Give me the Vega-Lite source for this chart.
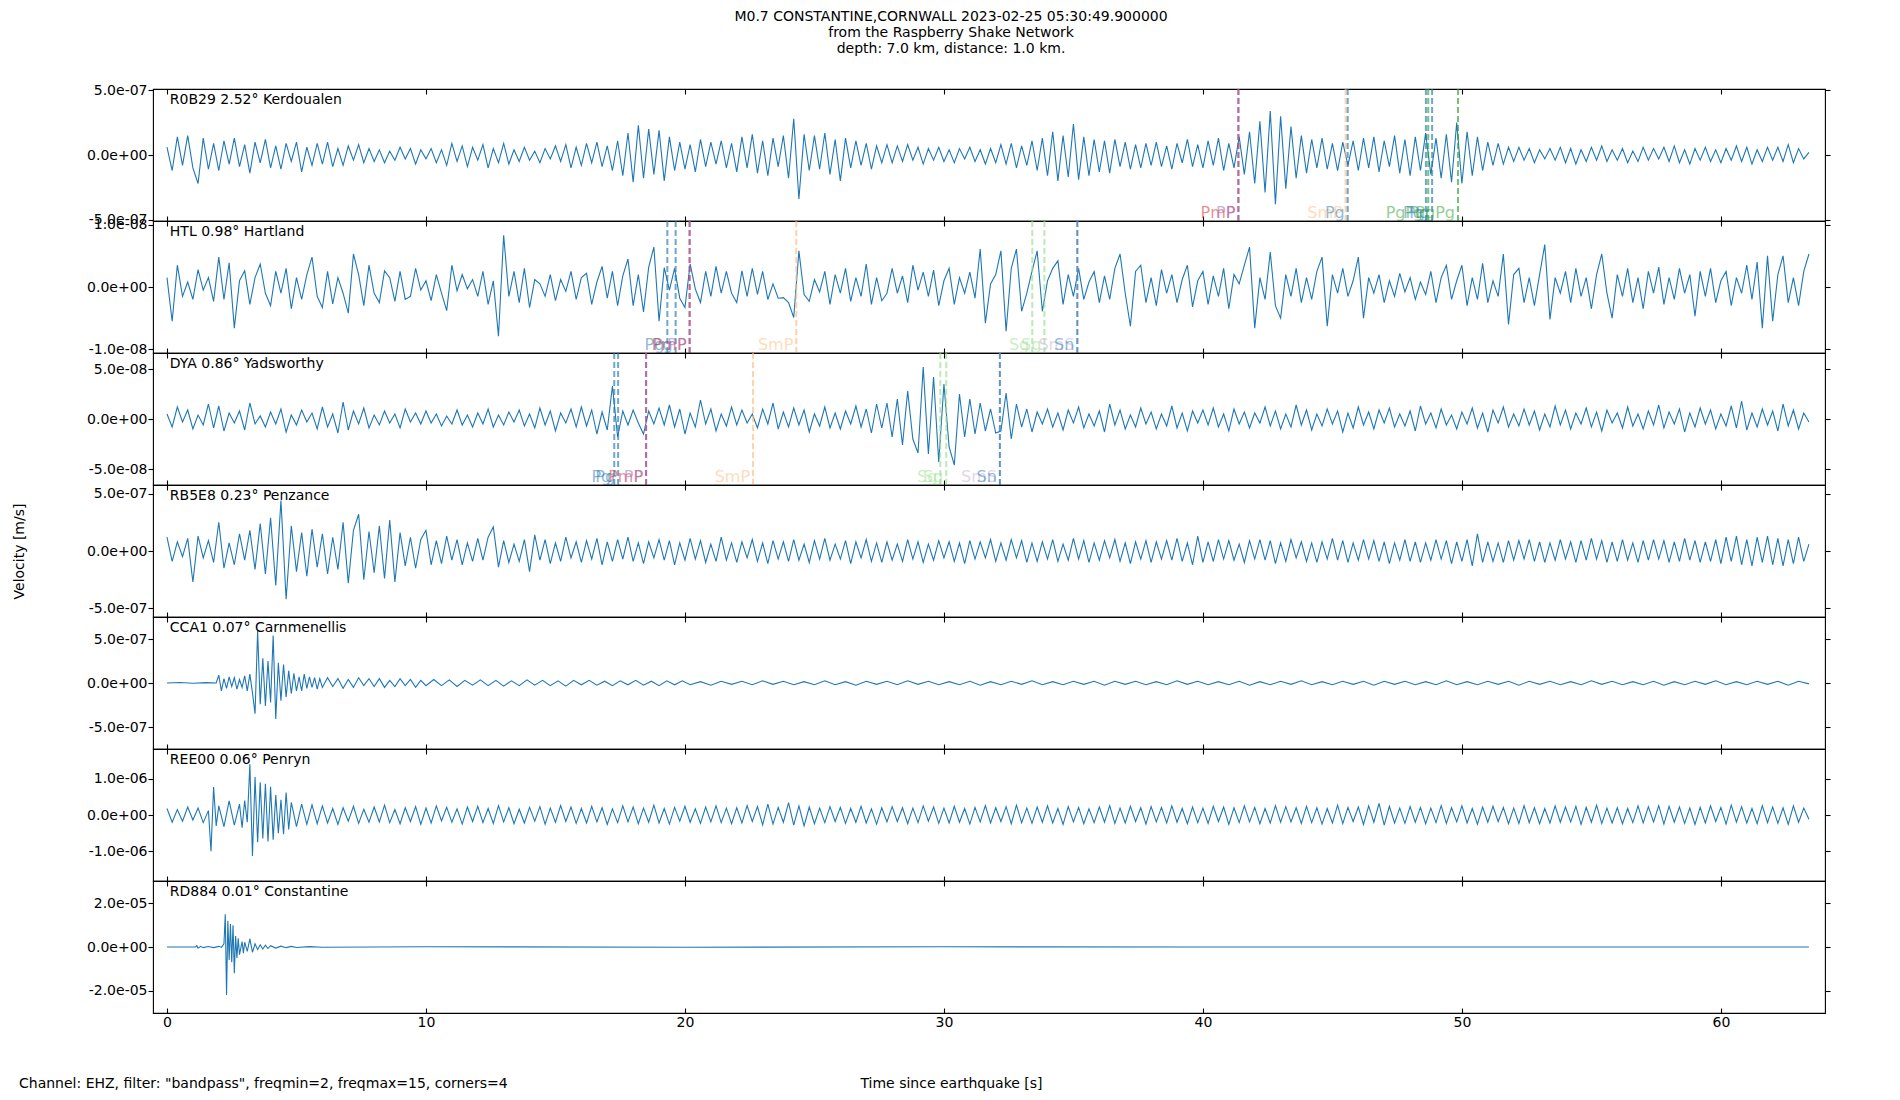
{
  "$schema": "https://vega.github.io/schema/vega-lite/v6.json",
  "description": "Raspberry Shake seismograms for the M0.7 Constantine, Cornwall event, seven stations stacked.",
  "padding": {"left": 11, "top": 9, "right": 5, "bottom": 14},
  "title": {
    "text": ["M0.7 CONSTANTINE,CORNWALL 2023-02-25 05:30:49.900000", "from the Raspberry Shake Network", "depth: 7.0 km, distance: 1.0 km."],
    "anchor": "middle", "frame": "group", "dx": -38, "offset": 13, "lineHeight": 16, "baseline": "bottom"
  },
  "config": {
    "font": "DejaVu Sans",
    "view": {"stroke": "black", "strokeWidth": 1.1},
    "title": {"font": "DejaVu Sans", "fontSize": 14, "fontWeight": "normal", "color": "black"},
    "axis": {
      "grid": false, "domain": false, "tickColor": "black", "tickWidth": 1.1,
      "labelColor": "black", "labelFont": "DejaVu Sans", "labelFontSize": 14,
      "titleFont": "DejaVu Sans", "titleFontSize": 14, "titleFontWeight": "normal", "titleColor": "black",
      "labelOverlap": false, "labelFlush": false
    }
  },
  "datasets": {
    "stations": [
      {"station": "R0B29", "label": "R0B29 2.52° Kerdoualen"},
      {"station": "HTL", "label": "HTL 0.98° Hartland"},
      {"station": "DYA", "label": "DYA 0.86° Yadsworthy"},
      {"station": "RB5E8", "label": "RB5E8 0.23° Penzance"},
      {"station": "CCA1", "label": "CCA1 0.07° Carnmenellis"},
      {"station": "REE00", "label": "REE00 0.06° Penryn"},
      {"station": "RD884", "label": "RD884 0.01° Constantine"}
    ],
    "phases": [
      {"station": "R0B29", "t": 41.37, "phase": "PmP"},
      {"station": "R0B29", "t": 41.37, "phase": "PP"},
      {"station": "R0B29", "t": 45.51, "phase": "SmP"},
      {"station": "R0B29", "t": 45.59, "phase": "Pg"},
      {"station": "R0B29", "t": 48.61, "phase": "Pg"},
      {"station": "R0B29", "t": 48.7, "phase": "PgPg"},
      {"station": "R0B29", "t": 48.85, "phase": "Pg"},
      {"station": "R0B29", "t": 49.85, "phase": "PgPg"},
      {"station": "HTL", "t": 19.32, "phase": "Pg"},
      {"station": "HTL", "t": 19.64, "phase": "Pg"},
      {"station": "HTL", "t": 20.18, "phase": "PmP"},
      {"station": "HTL", "t": 20.18, "phase": "PP"},
      {"station": "HTL", "t": 24.3, "phase": "SmP"},
      {"station": "HTL", "t": 33.41, "phase": "Sg"},
      {"station": "HTL", "t": 33.88, "phase": "Sg"},
      {"station": "HTL", "t": 35.15, "phase": "SmS"},
      {"station": "HTL", "t": 35.15, "phase": "Sn"},
      {"station": "DYA", "t": 17.27, "phase": "Pg"},
      {"station": "DYA", "t": 17.42, "phase": "Pg"},
      {"station": "DYA", "t": 18.5, "phase": "PmP"},
      {"station": "DYA", "t": 18.5, "phase": "PP"},
      {"station": "DYA", "t": 22.63, "phase": "SmP"},
      {"station": "DYA", "t": 29.86, "phase": "Sg"},
      {"station": "DYA", "t": 30.09, "phase": "Sg"},
      {"station": "DYA", "t": 32.16, "phase": "SmS"},
      {"station": "DYA", "t": 32.16, "phase": "Sn"}
    ],
    "R0B29": [
      {"t":0,"v":0.6},{"t":0.2,"v":-1.2},{"t":0.4,"v":1.4},{"t":0.6,"v":-0.8},{"t":0.8,"v":1.5},{"t":1,"v":-1.0},{"t":1.2,"v":-2.2},{"t":1.4,"v":1.3},{"t":1.6,"v":-1.1},{"t":1.8,"v":0.9},
      {"t":2,"v":-1.2},{"t":2.2,"v":1.1},{"t":2.4,"v":-0.7},{"t":2.6,"v":1.3},{"t":2.8,"v":-0.9},{"t":3,"v":0.8},{"t":3.2,"v":-1.4},{"t":3.4,"v":1.0},{"t":3.6,"v":-0.6},{"t":3.8,"v":1.2},
      {"t":4,"v":-1.0},{"t":4.2,"v":0.7},{"t":4.4,"v":-1.1},{"t":4.6,"v":0.9},{"t":4.8,"v":-0.5},{"t":5,"v":1.0},{"t":5.2,"v":-1.3},{"t":5.4,"v":0.6},{"t":5.6,"v":-0.8},{"t":5.8,"v":0.9},
      {"t":6,"v":-0.7},{"t":6.2,"v":1.0},{"t":6.4,"v":-0.9},{"t":6.6,"v":0.5},{"t":6.8,"v":-0.8},{"t":7,"v":0.7},{"t":7.2,"v":-0.4},{"t":7.4,"v":0.8},{"t":7.6,"v":-0.6},{"t":7.8,"v":0.5},
      {"t":8,"v":-0.5},{"t":8.2,"v":0.4},{"t":8.4,"v":-0.6},{"t":8.6,"v":0.3},{"t":8.8,"v":-0.4},{"t":9,"v":0.6},{"t":9.2,"v":-0.3},{"t":9.4,"v":0.5},{"t":9.6,"v":-0.7},{"t":9.8,"v":0.4},
      {"t":10,"v":-0.3},{"t":10.2,"v":0.5},{"t":10.4,"v":-0.6},{"t":10.6,"v":0.4},{"t":10.8,"v":-0.8},{"t":11,"v":0.9},{"t":11.2,"v":-0.5},{"t":11.4,"v":0.7},{"t":11.6,"v":-0.9},{"t":11.8,"v":0.6},
      {"t":12,"v":-0.4},{"t":12.2,"v":0.8},{"t":12.4,"v":-1.0},{"t":12.6,"v":0.5},{"t":12.8,"v":-0.6},{"t":13,"v":0.9},{"t":13.2,"v":-0.7},{"t":13.4,"v":0.4},{"t":13.6,"v":-0.5},{"t":13.8,"v":0.6},
      {"t":14,"v":-0.4},{"t":14.2,"v":0.3},{"t":14.4,"v":-0.6},{"t":14.6,"v":0.5},{"t":14.8,"v":-0.3},{"t":15,"v":0.7},{"t":15.2,"v":-0.5},{"t":15.4,"v":0.8},{"t":15.6,"v":-1.0},{"t":15.8,"v":0.6},
      {"t":16,"v":-0.8},{"t":16.2,"v":0.9},{"t":16.4,"v":-0.6},{"t":16.6,"v":1.0},{"t":16.8,"v":-0.9},{"t":17,"v":0.7},{"t":17.2,"v":-1.2},{"t":17.4,"v":1.1},{"t":17.6,"v":-1.6},{"t":17.8,"v":1.7},
      {"t":18,"v":-2.1},{"t":18.2,"v":2.3},{"t":18.4,"v":-1.8},{"t":18.6,"v":2.0},{"t":18.8,"v":-1.5},{"t":19,"v":1.9},{"t":19.2,"v":-2.0},{"t":19.4,"v":1.4},{"t":19.6,"v":-1.2},{"t":19.8,"v":1.0},
      {"t":20,"v":-1.1},{"t":20.2,"v":0.8},{"t":20.4,"v":-1.3},{"t":20.6,"v":1.2},{"t":20.8,"v":-0.9},{"t":21,"v":1.0},{"t":21.2,"v":-0.7},{"t":21.4,"v":1.1},{"t":21.6,"v":-1.0},{"t":21.8,"v":0.9},
      {"t":22,"v":-1.3},{"t":22.2,"v":1.4},{"t":22.4,"v":-1.0},{"t":22.6,"v":1.6},{"t":22.8,"v":-1.4},{"t":23,"v":1.1},{"t":23.2,"v":-1.6},{"t":23.4,"v":1.3},{"t":23.6,"v":-0.9},{"t":23.8,"v":1.5},
      {"t":24,"v":-1.8},{"t":24.2,"v":2.8},{"t":24.4,"v":-3.4},{"t":24.6,"v":1.6},{"t":24.8,"v":-1.2},{"t":25,"v":1.5},{"t":25.2,"v":-1.1},{"t":25.4,"v":1.7},{"t":25.6,"v":-1.5},{"t":25.8,"v":1.2},
      {"t":26,"v":-2.0},{"t":26.2,"v":1.3},{"t":26.4,"v":-1.0},{"t":26.6,"v":1.1},{"t":26.8,"v":-0.8},{"t":27,"v":0.9},{"t":27.2,"v":-1.1},{"t":27.4,"v":0.7},{"t":27.6,"v":-0.6},{"t":27.8,"v":0.8},
      {"t":28,"v":-0.6},{"t":28.2,"v":0.7},{"t":28.4,"v":-0.5},{"t":28.6,"v":0.8},{"t":28.8,"v":-0.4},{"t":29,"v":0.6},{"t":29.2,"v":-0.7},{"t":29.4,"v":0.5},{"t":29.6,"v":-0.4},{"t":29.8,"v":0.6},
      {"t":30,"v":-0.5},{"t":30.2,"v":0.4},{"t":30.4,"v":-0.6},{"t":30.6,"v":0.5},{"t":30.8,"v":-0.3},{"t":31,"v":0.6},{"t":31.2,"v":-0.5},{"t":31.4,"v":0.4},{"t":31.6,"v":-0.7},{"t":31.8,"v":0.5},
      {"t":32,"v":-0.6},{"t":32.2,"v":0.8},{"t":32.4,"v":-0.7},{"t":32.6,"v":0.9},{"t":32.8,"v":-1.0},{"t":33,"v":0.7},{"t":33.2,"v":-0.8},{"t":33.4,"v":1.1},{"t":33.6,"v":-1.2},{"t":33.8,"v":1.3},
      {"t":34,"v":-1.6},{"t":34.2,"v":1.8},{"t":34.4,"v":-2.0},{"t":34.6,"v":1.5},{"t":34.8,"v":-1.7},{"t":35,"v":2.4},{"t":35.2,"v":-1.9},{"t":35.4,"v":1.4},{"t":35.6,"v":-1.6},{"t":35.8,"v":1.2},
      {"t":36,"v":-1.3},{"t":36.2,"v":1.1},{"t":36.4,"v":-1.4},{"t":36.6,"v":1.2},{"t":36.8,"v":-0.9},{"t":37,"v":1.0},{"t":37.2,"v":-1.1},{"t":37.4,"v":0.8},{"t":37.6,"v":-1.0},{"t":37.8,"v":0.9},
      {"t":38,"v":-0.8},{"t":38.2,"v":1.0},{"t":38.4,"v":-0.9},{"t":38.6,"v":0.7},{"t":38.8,"v":-1.1},{"t":39,"v":0.9},{"t":39.2,"v":-0.6},{"t":39.4,"v":1.2},{"t":39.6,"v":-0.9},{"t":39.8,"v":0.8},
      {"t":40,"v":-1.0},{"t":40.2,"v":1.1},{"t":40.4,"v":-0.8},{"t":40.6,"v":1.3},{"t":40.8,"v":-1.2},{"t":41,"v":0.9},{"t":41.2,"v":-1.0},{"t":41.4,"v":1.4},{"t":41.6,"v":-1.5},{"t":41.8,"v":1.8},
      {"t":42,"v":-2.2},{"t":42.2,"v":2.6},{"t":42.4,"v":-2.9},{"t":42.6,"v":3.4},{"t":42.8,"v":-3.8},{"t":43,"v":3.0},{"t":43.2,"v":-2.6},{"t":43.4,"v":2.2},{"t":43.6,"v":-1.8},{"t":43.8,"v":1.5},
      {"t":44,"v":-1.4},{"t":44.2,"v":1.2},{"t":44.4,"v":-1.0},{"t":44.6,"v":1.3},{"t":44.8,"v":-1.1},{"t":45,"v":0.9},{"t":45.2,"v":-1.2},{"t":45.4,"v":1.0},{"t":45.6,"v":-0.8},{"t":45.8,"v":1.1},
      {"t":46,"v":-1.2},{"t":46.2,"v":1.3},{"t":46.4,"v":-1.0},{"t":46.6,"v":1.4},{"t":46.8,"v":-1.3},{"t":47,"v":1.1},{"t":47.2,"v":-0.9},{"t":47.4,"v":1.5},{"t":47.6,"v":-1.4},{"t":47.8,"v":1.2},
      {"t":48,"v":-1.6},{"t":48.2,"v":1.4},{"t":48.4,"v":-1.2},{"t":48.6,"v":1.7},{"t":48.8,"v":-1.5},{"t":49,"v":1.3},{"t":49.2,"v":-1.8},{"t":49.4,"v":1.6},{"t":49.6,"v":-2.1},{"t":49.8,"v":2.5},
      {"t":50,"v":-2.2},{"t":50.2,"v":1.8},{"t":50.4,"v":-1.6},{"t":50.6,"v":1.4},{"t":50.8,"v":-1.2},{"t":51,"v":1.0},{"t":51.2,"v":-0.8},{"t":51.4,"v":0.9},{"t":51.6,"v":-0.7},{"t":51.8,"v":0.6},
      {"t":52,"v":-0.5},{"t":52.2,"v":0.6},{"t":52.4,"v":-0.4},{"t":52.6,"v":0.5},{"t":52.8,"v":-0.6},{"t":53,"v":0.4},{"t":53.2,"v":-0.3},{"t":53.4,"v":0.5},{"t":53.6,"v":-0.4},{"t":53.8,"v":0.6},
      {"t":54,"v":-0.6},{"t":54.2,"v":0.5},{"t":54.4,"v":-0.7},{"t":54.6,"v":0.4},{"t":54.8,"v":-0.5},{"t":55,"v":0.6},{"t":55.2,"v":-0.4},{"t":55.4,"v":0.7},{"t":55.6,"v":-0.5},{"t":55.8,"v":0.4},
      {"t":56,"v":-0.4},{"t":56.2,"v":0.5},{"t":56.4,"v":-0.6},{"t":56.6,"v":0.3},{"t":56.8,"v":-0.5},{"t":57,"v":0.6},{"t":57.2,"v":-0.4},{"t":57.4,"v":0.5},{"t":57.6,"v":-0.3},{"t":57.8,"v":0.6},
      {"t":58,"v":-0.5},{"t":58.2,"v":0.7},{"t":58.4,"v":-0.6},{"t":58.6,"v":0.4},{"t":58.8,"v":-0.7},{"t":59,"v":0.5},{"t":59.2,"v":-0.4},{"t":59.4,"v":0.6},{"t":59.6,"v":-0.5},{"t":59.8,"v":0.4},
      {"t":60,"v":-0.6},{"t":60.2,"v":0.5},{"t":60.4,"v":-0.4},{"t":60.6,"v":0.7},{"t":60.8,"v":-0.5},{"t":61,"v":0.6},{"t":61.2,"v":-0.7},{"t":61.4,"v":0.4},{"t":61.6,"v":-0.5},{"t":61.8,"v":0.6},
      {"t":62,"v":-0.4},{"t":62.2,"v":0.6},{"t":62.4,"v":-0.5},{"t":62.6,"v":0.8},{"t":62.8,"v":-0.6},{"t":63,"v":0.5},{"t":63.2,"v":-0.3},{"t":63.4,"v":0.2}
    ],
    "HTL": [
      {"t":0,"v":1.5},{"t":0.2,"v":-5.5},{"t":0.4,"v":3.5},{"t":0.6,"v":-1.5},{"t":0.8,"v":0.8},{"t":1,"v":-2.0},{"t":1.2,"v":2.8},{"t":1.4,"v":-0.5},{"t":1.6,"v":1.5},{"t":1.8,"v":-2.3},
      {"t":2,"v":4.8},{"t":2.2,"v":-2.0},{"t":2.4,"v":3.9},{"t":2.6,"v":-6.6},{"t":2.8,"v":1.0},{"t":3,"v":2.6},{"t":3.2,"v":-2.8},{"t":3.4,"v":1.5},{"t":3.6,"v":3.7},{"t":3.8,"v":-1.0},
      {"t":4,"v":-3.0},{"t":4.2,"v":2.5},{"t":4.4,"v":-1.0},{"t":4.6,"v":3.0},{"t":4.8,"v":-3.5},{"t":5,"v":1.5},{"t":5.2,"v":-2.0},{"t":5.4,"v":2.0},{"t":5.6,"v":4.8},{"t":5.8,"v":-1.5},
      {"t":6,"v":-3.3},{"t":6.2,"v":2.5},{"t":6.4,"v":-2.7},{"t":6.6,"v":1.5},{"t":6.8,"v":-1.0},{"t":7,"v":-4.2},{"t":7.2,"v":5.3},{"t":7.4,"v":2.0},{"t":7.6,"v":-3.0},{"t":7.8,"v":3.5},
      {"t":8,"v":-1.0},{"t":8.2,"v":-2.5},{"t":8.4,"v":2.6},{"t":8.6,"v":1.5},{"t":8.8,"v":-2.3},{"t":9,"v":2.5},{"t":9.2,"v":-2.0},{"t":9.4,"v":-1.5},{"t":9.6,"v":3.0},{"t":9.8,"v":-0.5},
      {"t":10,"v":1.0},{"t":10.2,"v":-2.2},{"t":10.4,"v":2.0},{"t":10.6,"v":-1.0},{"t":10.8,"v":-3.8},{"t":11,"v":3.5},{"t":11.2,"v":-0.6},{"t":11.4,"v":2.0},{"t":11.6,"v":-0.3},{"t":11.8,"v":1.2},
      {"t":12,"v":-1.5},{"t":12.2,"v":2.5},{"t":12.4,"v":-2.8},{"t":12.6,"v":1.0},{"t":12.8,"v":-7.9},{"t":13,"v":8.3},{"t":13.2,"v":-1.5},{"t":13.4,"v":2.5},{"t":13.6,"v":-2.5},{"t":13.8,"v":3.0},
      {"t":14,"v":-3.3},{"t":14.2,"v":1.2},{"t":14.4,"v":0.5},{"t":14.6,"v":-1.5},{"t":14.8,"v":2.0},{"t":15,"v":-2.2},{"t":15.2,"v":1.2},{"t":15.4,"v":-0.7},{"t":15.6,"v":2.5},{"t":15.8,"v":-2.0},
      {"t":16,"v":1.5},{"t":16.2,"v":2.2},{"t":16.4,"v":-2.8},{"t":16.6,"v":0.8},{"t":16.8,"v":3.3},{"t":17,"v":-1.8},{"t":17.2,"v":2.5},{"t":17.4,"v":-3.0},{"t":17.6,"v":1.8},{"t":17.8,"v":4.5},
      {"t":18,"v":-3.0},{"t":18.2,"v":2.0},{"t":18.4,"v":-4.0},{"t":18.6,"v":3.2},{"t":18.8,"v":6.4},{"t":19,"v":-5.5},{"t":19.2,"v":3.1},{"t":19.4,"v":-0.5},{"t":19.6,"v":3.0},{"t":19.8,"v":-1.8},
      {"t":20,"v":-3.3},{"t":20.2,"v":3.7},{"t":20.4,"v":-0.3},{"t":20.6,"v":-2.5},{"t":20.8,"v":2.5},{"t":21,"v":-1.5},{"t":21.2,"v":3.3},{"t":21.4,"v":-1.0},{"t":21.6,"v":2.5},{"t":21.8,"v":-1.0},
      {"t":22,"v":-2.5},{"t":22.2,"v":2.6},{"t":22.4,"v":-1.5},{"t":22.6,"v":3.0},{"t":22.8,"v":-1.2},{"t":23,"v":2.5},{"t":23.2,"v":-2.0},{"t":23.4,"v":0.5},{"t":23.6,"v":-1.8},{"t":23.8,"v":-1.7},
      {"t":24,"v":-2.5},{"t":24.2,"v":-4.9},{"t":24.4,"v":5.8},{"t":24.6,"v":-1.2},{"t":24.8,"v":-2.3},{"t":25,"v":1.2},{"t":25.2,"v":-0.8},{"t":25.4,"v":2.5},{"t":25.6,"v":-2.8},{"t":25.8,"v":2.0},
      {"t":26,"v":-1.0},{"t":26.2,"v":3.0},{"t":26.4,"v":-2.3},{"t":26.6,"v":1.5},{"t":26.8,"v":-1.5},{"t":27,"v":3.7},{"t":27.2,"v":-2.8},{"t":27.4,"v":1.5},{"t":27.6,"v":-2.2},{"t":27.8,"v":-1.0},
      {"t":28,"v":3.0},{"t":28.2,"v":-1.0},{"t":28.4,"v":1.8},{"t":28.6,"v":-2.5},{"t":28.8,"v":3.5},{"t":29,"v":-0.5},{"t":29.2,"v":2.4},{"t":29.4,"v":-1.5},{"t":29.6,"v":2.7},{"t":29.8,"v":-3.0},
      {"t":30,"v":1.0},{"t":30.2,"v":3.0},{"t":30.4,"v":-2.8},{"t":30.6,"v":1.5},{"t":30.8,"v":-1.0},{"t":31,"v":2.4},{"t":31.2,"v":-1.8},{"t":31.4,"v":6.1},{"t":31.6,"v":-5.8},{"t":31.8,"v":0.5},
      {"t":32,"v":2.0},{"t":32.2,"v":5.8},{"t":32.4,"v":-7.1},{"t":32.6,"v":3.0},{"t":32.8,"v":6.1},{"t":33,"v":-3.9},{"t":33.2,"v":-1.0},{"t":33.4,"v":2.5},{"t":33.6,"v":5.8},{"t":33.8,"v":-3.9},
      {"t":34,"v":1.0},{"t":34.2,"v":3.0},{"t":34.4,"v":4.2},{"t":34.6,"v":-2.8},{"t":34.8,"v":2.0},{"t":35,"v":-1.5},{"t":35.2,"v":3.0},{"t":35.4,"v":-2.0},{"t":35.6,"v":0.8},{"t":35.8,"v":2.5},
      {"t":36,"v":-2.5},{"t":36.2,"v":1.8},{"t":36.4,"v":-2.0},{"t":36.6,"v":3.0},{"t":36.8,"v":5.3},{"t":37,"v":-1.0},{"t":37.2,"v":-6.3},{"t":37.4,"v":2.5},{"t":37.6,"v":3.5},{"t":37.8,"v":-2.5},
      {"t":38,"v":1.5},{"t":38.2,"v":-3.0},{"t":38.4,"v":2.8},{"t":38.6,"v":-1.0},{"t":38.8,"v":2.0},{"t":39,"v":-2.5},{"t":39.2,"v":1.2},{"t":39.4,"v":3.5},{"t":39.6,"v":-3.2},{"t":39.8,"v":1.0},
      {"t":40,"v":2.5},{"t":40.2,"v":-2.8},{"t":40.4,"v":1.8},{"t":40.6,"v":-1.5},{"t":40.8,"v":3.0},{"t":41,"v":-3.5},{"t":41.2,"v":2.0},{"t":41.4,"v":0.5},{"t":41.6,"v":3.5},{"t":41.8,"v":6.4},
      {"t":42,"v":-6.6},{"t":42.2,"v":1.5},{"t":42.4,"v":-2.0},{"t":42.6,"v":5.6},{"t":42.8,"v":-3.0},{"t":43,"v":-5.0},{"t":43.2,"v":2.0},{"t":43.4,"v":-1.5},{"t":43.6,"v":3.0},{"t":43.8,"v":-2.5},
      {"t":44,"v":1.5},{"t":44.2,"v":-2.0},{"t":44.4,"v":2.5},{"t":44.6,"v":4.8},{"t":44.8,"v":-6.3},{"t":45,"v":2.0},{"t":45.2,"v":-1.0},{"t":45.4,"v":3.0},{"t":45.6,"v":-1.5},{"t":45.8,"v":1.0},
      {"t":46,"v":4.8},{"t":46.2,"v":-5.0},{"t":46.4,"v":1.5},{"t":46.6,"v":-1.0},{"t":46.8,"v":2.0},{"t":47,"v":-2.5},{"t":47.2,"v":1.0},{"t":47.4,"v":-1.5},{"t":47.6,"v":2.2},{"t":47.8,"v":-0.8},
      {"t":48,"v":1.5},{"t":48.2,"v":-2.0},{"t":48.4,"v":0.8},{"t":48.6,"v":-1.2},{"t":48.8,"v":2.5},{"t":49,"v":-2.5},{"t":49.2,"v":1.5},{"t":49.4,"v":3.5},{"t":49.6,"v":-2.0},{"t":49.8,"v":1.0},
      {"t":50,"v":3.5},{"t":50.2,"v":-3.0},{"t":50.4,"v":1.5},{"t":50.6,"v":-2.0},{"t":50.8,"v":3.8},{"t":51,"v":-2.5},{"t":51.2,"v":1.0},{"t":51.4,"v":-1.5},{"t":51.6,"v":5.3},{"t":51.8,"v":-6.0},
      {"t":52,"v":2.0},{"t":52.2,"v":3.0},{"t":52.4,"v":-2.5},{"t":52.6,"v":1.5},{"t":52.8,"v":-3.0},{"t":53,"v":2.0},{"t":53.2,"v":6.8},{"t":53.4,"v":-5.2},{"t":53.6,"v":1.5},{"t":53.8,"v":-1.0},
      {"t":54,"v":2.5},{"t":54.2,"v":-2.5},{"t":54.4,"v":3.0},{"t":54.6,"v":-1.5},{"t":54.8,"v":1.5},{"t":55,"v":-3.5},{"t":55.2,"v":2.0},{"t":55.4,"v":5.3},{"t":55.6,"v":-1.0},{"t":55.8,"v":-5.0},
      {"t":56,"v":2.0},{"t":56.2,"v":-1.5},{"t":56.4,"v":3.0},{"t":56.6,"v":-2.5},{"t":56.8,"v":1.5},{"t":57,"v":-3.5},{"t":57.2,"v":2.5},{"t":57.4,"v":-1.0},{"t":57.6,"v":3.2},{"t":57.8,"v":-2.8},
      {"t":58,"v":1.5},{"t":58.2,"v":-2.0},{"t":58.4,"v":3.0},{"t":58.6,"v":-1.0},{"t":58.8,"v":2.0},{"t":59,"v":-4.7},{"t":59.2,"v":2.5},{"t":59.4,"v":-1.5},{"t":59.6,"v":3.0},{"t":59.8,"v":-2.5},
      {"t":60,"v":1.0},{"t":60.2,"v":2.5},{"t":60.4,"v":-3.0},{"t":60.6,"v":1.5},{"t":60.8,"v":-1.0},{"t":61,"v":3.5},{"t":61.2,"v":-2.0},{"t":61.4,"v":4.0},{"t":61.6,"v":-6.6},{"t":61.8,"v":5.0},
      {"t":62,"v":-5.5},{"t":62.2,"v":2.0},{"t":62.4,"v":5.0},{"t":62.6,"v":-2.5},{"t":62.8,"v":1.5},{"t":63,"v":-3.0},{"t":63.2,"v":2.5},{"t":63.4,"v":5.3}
    ],
    "DYA": [
      {"t":0,"v":0.5},{"t":0.2,"v":-0.8},{"t":0.4,"v":1.2},{"t":0.6,"v":-0.3},{"t":0.8,"v":0.9},{"t":1,"v":-1.0},{"t":1.2,"v":0.4},{"t":1.4,"v":-0.6},{"t":1.6,"v":1.5},{"t":1.8,"v":-0.9},
      {"t":2,"v":1.3},{"t":2.2,"v":-1.2},{"t":2.4,"v":0.6},{"t":2.6,"v":-0.4},{"t":2.8,"v":0.8},{"t":3,"v":-1.1},{"t":3.2,"v":1.6},{"t":3.4,"v":-0.5},{"t":3.6,"v":0.3},{"t":3.8,"v":-0.8},
      {"t":4,"v":0.7},{"t":4.2,"v":-0.5},{"t":4.4,"v":1.0},{"t":4.6,"v":-1.3},{"t":4.8,"v":0.4},{"t":5,"v":-0.6},{"t":5.2,"v":0.9},{"t":5.4,"v":-0.3},{"t":5.6,"v":0.6},{"t":5.8,"v":-1.0},
      {"t":6,"v":1.2},{"t":6.2,"v":-0.8},{"t":6.4,"v":0.5},{"t":6.6,"v":-1.4},{"t":6.8,"v":1.7},{"t":7,"v":-1.1},{"t":7.2,"v":0.8},{"t":7.4,"v":-0.5},{"t":7.6,"v":1.1},{"t":7.8,"v":-0.9},
      {"t":8,"v":0.4},{"t":8.2,"v":-0.6},{"t":8.4,"v":0.8},{"t":8.6,"v":-0.4},{"t":8.8,"v":0.5},{"t":9,"v":-0.9},{"t":9.2,"v":1.0},{"t":9.4,"v":-0.3},{"t":9.6,"v":0.6},{"t":9.8,"v":-0.5},
      {"t":10,"v":0.8},{"t":10.2,"v":-0.4},{"t":10.4,"v":0.5},{"t":10.6,"v":-0.7},{"t":10.8,"v":0.3},{"t":11,"v":-0.5},{"t":11.2,"v":0.9},{"t":11.4,"v":-0.6},{"t":11.6,"v":0.4},{"t":11.8,"v":-0.8},
      {"t":12,"v":0.6},{"t":12.2,"v":-0.5},{"t":12.4,"v":1.0},{"t":12.6,"v":-0.8},{"t":12.8,"v":0.4},{"t":13,"v":-0.6},{"t":13.2,"v":0.7},{"t":13.4,"v":-0.3},{"t":13.6,"v":0.9},{"t":13.8,"v":-0.7},
      {"t":14,"v":0.5},{"t":14.2,"v":-0.9},{"t":14.4,"v":1.1},{"t":14.6,"v":-0.6},{"t":14.8,"v":0.8},{"t":15,"v":-1.2},{"t":15.2,"v":0.6},{"t":15.4,"v":-0.4},{"t":15.6,"v":1.0},{"t":15.8,"v":-0.8},
      {"t":16,"v":1.2},{"t":16.2,"v":-0.7},{"t":16.4,"v":0.9},{"t":16.6,"v":-1.5},{"t":16.8,"v":0.7},{"t":17,"v":-1.1},{"t":17.2,"v":3.3},{"t":17.4,"v":-1.8},{"t":17.6,"v":0.8},{"t":17.8,"v":-0.6},
      {"t":18,"v":0.9},{"t":18.2,"v":-0.4},{"t":18.4,"v":-1.5},{"t":18.6,"v":0.8},{"t":18.8,"v":-0.5},{"t":19,"v":1.1},{"t":19.2,"v":-0.6},{"t":19.4,"v":1.4},{"t":19.6,"v":-0.8},{"t":19.8,"v":1.0},
      {"t":20,"v":-1.5},{"t":20.2,"v":0.6},{"t":20.4,"v":-0.8},{"t":20.6,"v":1.9},{"t":20.8,"v":-0.5},{"t":21,"v":1.0},{"t":21.2,"v":-1.2},{"t":21.4,"v":0.5},{"t":21.6,"v":-0.7},{"t":21.8,"v":1.2},
      {"t":22,"v":-0.6},{"t":22.2,"v":0.9},{"t":22.4,"v":-0.4},{"t":22.6,"v":0.5},{"t":22.8,"v":-0.9},{"t":23,"v":1.0},{"t":23.2,"v":-0.5},{"t":23.4,"v":1.6},{"t":23.6,"v":-1.0},{"t":23.8,"v":0.7},
      {"t":24,"v":-0.8},{"t":24.2,"v":1.1},{"t":24.4,"v":-0.6},{"t":24.6,"v":0.9},{"t":24.8,"v":-1.3},{"t":25,"v":0.5},{"t":25.2,"v":-0.7},{"t":25.4,"v":1.2},{"t":25.6,"v":-0.9},{"t":25.8,"v":0.6},
      {"t":26,"v":-1.0},{"t":26.2,"v":0.8},{"t":26.4,"v":-0.5},{"t":26.6,"v":1.3},{"t":26.8,"v":-0.8},{"t":27,"v":1.0},{"t":27.2,"v":-1.4},{"t":27.4,"v":1.5},{"t":27.6,"v":-0.9},{"t":27.8,"v":1.6},
      {"t":28,"v":-1.8},{"t":28.2,"v":2.0},{"t":28.4,"v":-2.6},{"t":28.6,"v":2.8},{"t":28.8,"v":-2.0},{"t":29,"v":-3.4},{"t":29.2,"v":5.2},{"t":29.4,"v":-3.5},{"t":29.6,"v":4.2},{"t":29.8,"v":-4.3},
      {"t":30,"v":3.5},{"t":30.2,"v":-2.8},{"t":30.4,"v":-4.6},{"t":30.6,"v":2.5},{"t":30.8,"v":-1.8},{"t":31,"v":2.0},{"t":31.2,"v":-1.5},{"t":31.4,"v":1.6},{"t":31.6,"v":-1.2},{"t":31.8,"v":1.0},
      {"t":32,"v":-1.4},{"t":32.2,"v":-1.2},{"t":32.4,"v":2.6},{"t":32.6,"v":-2.0},{"t":32.8,"v":1.5},{"t":33,"v":-0.8},{"t":33.2,"v":1.0},{"t":33.4,"v":-1.3},{"t":33.6,"v":0.7},{"t":33.8,"v":-0.5},
      {"t":34,"v":1.0},{"t":34.2,"v":-0.8},{"t":34.4,"v":0.6},{"t":34.6,"v":-1.1},{"t":34.8,"v":0.9},{"t":35,"v":-0.4},{"t":35.2,"v":1.2},{"t":35.4,"v":-0.9},{"t":35.6,"v":0.5},{"t":35.8,"v":-0.7},
      {"t":36,"v":0.8},{"t":36.2,"v":-1.3},{"t":36.4,"v":1.5},{"t":36.6,"v":-0.6},{"t":36.8,"v":0.9},{"t":37,"v":-1.0},{"t":37.2,"v":0.4},{"t":37.4,"v":-0.8},{"t":37.6,"v":1.1},{"t":37.8,"v":-0.5},
      {"t":38,"v":0.7},{"t":38.2,"v":-1.0},{"t":38.4,"v":0.5},{"t":38.6,"v":-0.7},{"t":38.8,"v":1.3},{"t":39,"v":-0.9},{"t":39.2,"v":0.6},{"t":39.4,"v":-1.2},{"t":39.6,"v":0.8},{"t":39.8,"v":-0.4},
      {"t":40,"v":0.9},{"t":40.2,"v":-0.6},{"t":40.4,"v":1.1},{"t":40.6,"v":-0.8},{"t":40.8,"v":0.5},{"t":41,"v":-1.2},{"t":41.2,"v":1.0},{"t":41.4,"v":-0.5},{"t":41.6,"v":0.7},{"t":41.8,"v":-0.9},
      {"t":42,"v":0.6},{"t":42.2,"v":-0.4},{"t":42.4,"v":1.2},{"t":42.6,"v":-0.7},{"t":42.8,"v":0.8},{"t":43,"v":-1.0},{"t":43.2,"v":0.5},{"t":43.4,"v":-0.8},{"t":43.6,"v":1.4},{"t":43.8,"v":-0.6},
      {"t":44,"v":0.9},{"t":44.2,"v":-1.1},{"t":44.4,"v":0.5},{"t":44.6,"v":-0.7},{"t":44.8,"v":1.0},{"t":45,"v":-0.5},{"t":45.2,"v":0.8},{"t":45.4,"v":-1.3},{"t":45.6,"v":0.6},{"t":45.8,"v":-0.9},
      {"t":46,"v":1.2},{"t":46.2,"v":-0.6},{"t":46.4,"v":0.7},{"t":46.6,"v":-1.0},{"t":46.8,"v":0.9},{"t":47,"v":-0.4},{"t":47.2,"v":1.1},{"t":47.4,"v":-0.8},{"t":47.6,"v":0.5},{"t":47.8,"v":-0.7},
      {"t":48,"v":0.8},{"t":48.2,"v":-1.2},{"t":48.4,"v":1.3},{"t":48.6,"v":-0.5},{"t":48.8,"v":0.6},{"t":49,"v":-0.9},{"t":49.2,"v":1.0},{"t":49.4,"v":-0.6},{"t":49.6,"v":0.4},{"t":49.8,"v":-1.0},
      {"t":50,"v":0.7},{"t":50.2,"v":-0.5},{"t":50.4,"v":1.1},{"t":50.6,"v":-0.9},{"t":50.8,"v":0.6},{"t":51,"v":-1.3},{"t":51.2,"v":0.9},{"t":51.4,"v":-0.4},{"t":51.6,"v":1.2},{"t":51.8,"v":-0.8},
      {"t":52,"v":0.5},{"t":52.2,"v":-0.7},{"t":52.4,"v":1.0},{"t":52.6,"v":-0.6},{"t":52.8,"v":0.8},{"t":53,"v":-1.1},{"t":53.2,"v":0.5},{"t":53.4,"v":-0.8},{"t":53.6,"v":1.3},{"t":53.8,"v":-0.6},
      {"t":54,"v":0.9},{"t":54.2,"v":-1.0},{"t":54.4,"v":0.6},{"t":54.6,"v":-0.5},{"t":54.8,"v":1.1},{"t":55,"v":-0.8},{"t":55.2,"v":0.7},{"t":55.4,"v":-1.2},{"t":55.6,"v":0.9},{"t":55.8,"v":-0.4},
      {"t":56,"v":0.6},{"t":56.2,"v":-0.9},{"t":56.4,"v":1.2},{"t":56.6,"v":-0.7},{"t":56.8,"v":0.5},{"t":57,"v":-1.0},{"t":57.2,"v":0.8},{"t":57.4,"v":-0.6},{"t":57.6,"v":1.4},{"t":57.8,"v":-0.9},
      {"t":58,"v":0.7},{"t":58.2,"v":-0.5},{"t":58.4,"v":1.0},{"t":58.6,"v":-1.3},{"t":58.8,"v":0.6},{"t":59,"v":-0.8},{"t":59.2,"v":1.1},{"t":59.4,"v":-0.5},{"t":59.6,"v":0.9},{"t":59.8,"v":-1.0},
      {"t":60,"v":0.5},{"t":60.2,"v":-0.7},{"t":60.4,"v":1.3},{"t":60.6,"v":-0.9},{"t":60.8,"v":1.8},{"t":61,"v":-1.1},{"t":61.2,"v":0.6},{"t":61.4,"v":-0.8},{"t":61.6,"v":1.0},{"t":61.8,"v":-0.6},
      {"t":62,"v":0.8},{"t":62.2,"v":-1.2},{"t":62.4,"v":1.5},{"t":62.6,"v":-0.7},{"t":62.8,"v":0.9},{"t":63,"v":-1.0},{"t":63.2,"v":0.6},{"t":63.4,"v":-0.3}
    ],
    "RB5E8": [
      {"t":0,"v":1.2},{"t":0.2,"v":-0.9},{"t":0.4,"v":0.8},{"t":0.6,"v":-0.5},{"t":0.8,"v":1.1},{"t":1,"v":-2.7},{"t":1.2,"v":1.3},{"t":1.4,"v":-0.6},{"t":1.6,"v":0.9},{"t":1.8,"v":-1.0},
      {"t":2,"v":2.5},{"t":2.2,"v":-1.5},{"t":2.4,"v":0.7},{"t":2.6,"v":-1.2},{"t":2.8,"v":1.5},{"t":3,"v":-0.8},{"t":3.2,"v":1.8},{"t":3.4,"v":-1.6},{"t":3.6,"v":2.4},{"t":3.8,"v":-2.0},
      {"t":4,"v":2.9},{"t":4.2,"v":-3.0},{"t":4.4,"v":4.4},{"t":4.6,"v":-4.2},{"t":4.8,"v":2.2},{"t":5,"v":-1.8},{"t":5.2,"v":1.6},{"t":5.4,"v":-2.2},{"t":5.6,"v":1.9},{"t":5.8,"v":-1.4},
      {"t":6,"v":1.5},{"t":6.2,"v":-2.0},{"t":6.4,"v":1.2},{"t":6.6,"v":-1.6},{"t":6.8,"v":2.5},{"t":7,"v":-2.8},{"t":7.2,"v":1.8},{"t":7.4,"v":3.2},{"t":7.6,"v":-2.5},{"t":7.8,"v":1.7},
      {"t":8,"v":-1.9},{"t":8.2,"v":2.2},{"t":8.4,"v":-2.4},{"t":8.6,"v":2.7},{"t":8.8,"v":-2.7},{"t":9,"v":1.6},{"t":9.2,"v":-1.3},{"t":9.4,"v":1.2},{"t":9.6,"v":-1.5},{"t":9.8,"v":1.0},
      {"t":10,"v":1.8},{"t":10.2,"v":-1.2},{"t":10.4,"v":0.9},{"t":10.6,"v":-1.1},{"t":10.8,"v":1.3},{"t":11,"v":-0.8},{"t":11.2,"v":1.0},{"t":11.4,"v":-1.2},{"t":11.6,"v":0.7},{"t":11.8,"v":-0.9},
      {"t":12,"v":1.1},{"t":12.2,"v":-0.8},{"t":12.4,"v":1.2},{"t":12.6,"v":2.1},{"t":12.8,"v":-1.4},{"t":13,"v":0.9},{"t":13.2,"v":-1.0},{"t":13.4,"v":0.6},{"t":13.6,"v":-0.9},{"t":13.8,"v":1.0},
      {"t":14,"v":-1.8},{"t":14.2,"v":1.4},{"t":14.4,"v":-0.8},{"t":14.6,"v":1.0},{"t":14.8,"v":-1.1},{"t":15,"v":0.7},{"t":15.2,"v":-0.9},{"t":15.4,"v":1.2},{"t":15.6,"v":-0.6},{"t":15.8,"v":0.8},
      {"t":16,"v":-1.0},{"t":16.2,"v":0.9},{"t":16.4,"v":-0.7},{"t":16.6,"v":1.1},{"t":16.8,"v":-1.2},{"t":17,"v":0.8},{"t":17.2,"v":-0.9},{"t":17.4,"v":1.0},{"t":17.6,"v":-0.7},{"t":17.8,"v":1.2},
      {"t":18,"v":-0.9},{"t":18.2,"v":0.7},{"t":18.4,"v":-1.1},{"t":18.6,"v":0.8},{"t":18.8,"v":-0.6},{"t":19,"v":1.0},{"t":19.2,"v":-0.8},{"t":19.4,"v":0.9},{"t":19.6,"v":-1.2},{"t":19.8,"v":0.7},
      {"t":20,"v":-0.8},{"t":20.2,"v":1.1},{"t":20.4,"v":-0.7},{"t":20.6,"v":0.9},{"t":20.8,"v":-1.0},{"t":21,"v":0.6},{"t":21.2,"v":-0.9},{"t":21.4,"v":1.2},{"t":21.6,"v":-0.8},{"t":21.8,"v":0.7},
      {"t":22,"v":-1.0},{"t":22.2,"v":0.8},{"t":22.4,"v":-0.6},{"t":22.6,"v":1.0},{"t":22.8,"v":-0.9},{"t":23,"v":0.7},{"t":23.2,"v":-1.1},{"t":23.4,"v":0.9},{"t":23.6,"v":-0.7},{"t":23.8,"v":0.8},
      {"t":24,"v":-0.9},{"t":24.2,"v":1.0},{"t":24.4,"v":-0.8},{"t":24.6,"v":0.6},{"t":24.8,"v":-1.0},{"t":25,"v":0.9},{"t":25.2,"v":-0.7},{"t":25.4,"v":1.1},{"t":25.6,"v":-0.8},{"t":25.8,"v":0.6},
      {"t":26,"v":-0.7},{"t":26.2,"v":0.9},{"t":26.4,"v":-1.1},{"t":26.6,"v":0.8},{"t":26.8,"v":-0.6},{"t":27,"v":1.0},{"t":27.2,"v":-0.9},{"t":27.4,"v":0.7},{"t":27.6,"v":-1.0},{"t":27.8,"v":0.8},
      {"t":28,"v":-0.8},{"t":28.2,"v":0.6},{"t":28.4,"v":-0.9},{"t":28.6,"v":1.0},{"t":28.8,"v":-0.7},{"t":29,"v":0.8},{"t":29.2,"v":-1.0},{"t":29.4,"v":0.6},{"t":29.6,"v":-0.8},{"t":29.8,"v":0.9},
      {"t":30,"v":-0.6},{"t":30.2,"v":0.8},{"t":30.4,"v":-0.9},{"t":30.6,"v":0.7},{"t":30.8,"v":-1.1},{"t":31,"v":0.9},{"t":31.2,"v":-0.7},{"t":31.4,"v":0.8},{"t":31.6,"v":-0.6},{"t":31.8,"v":1.0},
      {"t":32,"v":-0.9},{"t":32.2,"v":0.7},{"t":32.4,"v":-0.8},{"t":32.6,"v":1.0},{"t":32.8,"v":-0.6},{"t":33,"v":0.9},{"t":33.2,"v":-1.0},{"t":33.4,"v":0.7},{"t":33.6,"v":-0.9},{"t":33.8,"v":0.8},
      {"t":34,"v":-0.7},{"t":34.2,"v":1.0},{"t":34.4,"v":-0.9},{"t":34.6,"v":0.6},{"t":34.8,"v":-0.8},{"t":35,"v":1.1},{"t":35.2,"v":-0.7},{"t":35.4,"v":0.9},{"t":35.6,"v":-1.0},{"t":35.8,"v":0.7},
      {"t":36,"v":-0.8},{"t":36.2,"v":0.9},{"t":36.4,"v":-0.6},{"t":36.6,"v":1.0},{"t":36.8,"v":-0.9},{"t":37,"v":0.7},{"t":37.2,"v":-1.1},{"t":37.4,"v":0.8},{"t":37.6,"v":-0.7},{"t":37.8,"v":0.9},
      {"t":38,"v":-1.0},{"t":38.2,"v":0.8},{"t":38.4,"v":-0.7},{"t":38.6,"v":0.9},{"t":38.8,"v":-0.8},{"t":39,"v":1.1},{"t":39.2,"v":-0.9},{"t":39.4,"v":0.7},{"t":39.6,"v":-1.2},{"t":39.8,"v":1.3},
      {"t":40,"v":-1.0},{"t":40.2,"v":0.8},{"t":40.4,"v":-0.9},{"t":40.6,"v":1.0},{"t":40.8,"v":-0.7},{"t":41,"v":0.9},{"t":41.2,"v":-0.8},{"t":41.4,"v":0.6},{"t":41.6,"v":-1.0},{"t":41.8,"v":0.9},
      {"t":42,"v":-0.7},{"t":42.2,"v":1.0},{"t":42.4,"v":-0.8},{"t":42.6,"v":0.9},{"t":42.8,"v":-1.1},{"t":43,"v":0.7},{"t":43.2,"v":-0.9},{"t":43.4,"v":1.0},{"t":43.6,"v":-0.6},{"t":43.8,"v":0.8},
      {"t":44,"v":-0.9},{"t":44.2,"v":0.7},{"t":44.4,"v":-1.0},{"t":44.6,"v":0.8},{"t":44.8,"v":-0.7},{"t":45,"v":1.1},{"t":45.2,"v":-0.8},{"t":45.4,"v":0.9},{"t":45.6,"v":-1.0},{"t":45.8,"v":0.7},
      {"t":46,"v":-0.8},{"t":46.2,"v":1.0},{"t":46.4,"v":-0.7},{"t":46.6,"v":0.9},{"t":46.8,"v":-0.9},{"t":47,"v":0.8},{"t":47.2,"v":-1.1},{"t":47.4,"v":0.7},{"t":47.6,"v":-0.8},{"t":47.8,"v":1.0},
      {"t":48,"v":-0.9},{"t":48.2,"v":0.8},{"t":48.4,"v":-1.0},{"t":48.6,"v":0.7},{"t":48.8,"v":-0.8},{"t":49,"v":1.0},{"t":49.2,"v":-0.7},{"t":49.4,"v":0.9},{"t":49.6,"v":-1.1},{"t":49.8,"v":0.8},
      {"t":50,"v":-0.9},{"t":50.2,"v":1.0},{"t":50.4,"v":-1.3},{"t":50.6,"v":1.5},{"t":50.8,"v":-1.0},{"t":51,"v":0.8},{"t":51.2,"v":-0.9},{"t":51.4,"v":0.7},{"t":51.6,"v":-1.0},{"t":51.8,"v":0.9},
      {"t":52,"v":-0.8},{"t":52.2,"v":0.9},{"t":52.4,"v":-0.7},{"t":52.6,"v":1.0},{"t":52.8,"v":-0.9},{"t":53,"v":0.8},{"t":53.2,"v":-1.0},{"t":53.4,"v":0.7},{"t":53.6,"v":-0.8},{"t":53.8,"v":1.0},
      {"t":54,"v":-0.7},{"t":54.2,"v":0.8},{"t":54.4,"v":-1.0},{"t":54.6,"v":0.9},{"t":54.8,"v":-0.8},{"t":55,"v":1.1},{"t":55.2,"v":-0.7},{"t":55.4,"v":0.9},{"t":55.6,"v":-1.0},{"t":55.8,"v":0.8},
      {"t":56,"v":-0.9},{"t":56.2,"v":1.0},{"t":56.4,"v":-0.8},{"t":56.6,"v":0.7},{"t":56.8,"v":-1.0},{"t":57,"v":0.9},{"t":57.2,"v":-0.8},{"t":57.4,"v":1.0},{"t":57.6,"v":-0.7},{"t":57.8,"v":0.9},
      {"t":58,"v":-1.0},{"t":58.2,"v":0.8},{"t":58.4,"v":-0.9},{"t":58.6,"v":1.1},{"t":58.8,"v":-0.8},{"t":59,"v":0.9},{"t":59.2,"v":-1.0},{"t":59.4,"v":0.8},{"t":59.6,"v":-0.9},{"t":59.8,"v":1.0},
      {"t":60,"v":-1.1},{"t":60.2,"v":1.2},{"t":60.4,"v":-0.9},{"t":60.6,"v":1.3},{"t":60.8,"v":-1.2},{"t":61,"v":1.0},{"t":61.2,"v":-1.3},{"t":61.4,"v":1.2},{"t":61.6,"v":-1.0},{"t":61.8,"v":1.3},
      {"t":62,"v":-1.2},{"t":62.2,"v":1.1},{"t":62.4,"v":-1.3},{"t":62.6,"v":1.0},{"t":62.8,"v":-1.1},{"t":63,"v":1.2},{"t":63.2,"v":-0.9},{"t":63.4,"v":0.6}
    ],
    "CCA1": [
      {"t":0,"v":0.0},{"t":0.5,"v":0.05},{"t":1,"v":-0.03},{"t":1.5,"v":0.04},{"t":1.9,"v":0.0},
      {"t":2,"v":0.9},{"t":2.1,"v":-0.9},{"t":2.2,"v":0.5},{"t":2.3,"v":-0.6},{"t":2.4,"v":0.7},{"t":2.5,"v":-0.4},{"t":2.6,"v":0.6},{"t":2.7,"v":-0.7},{"t":2.8,"v":0.4},{"t":2.9,"v":-0.5},
      {"t":3,"v":0.8},{"t":3.1,"v":-0.9},{"t":3.2,"v":1.0},{"t":3.3,"v":-1.1},{"t":3.4,"v":-3.5},{"t":3.5,"v":5.9},{"t":3.6,"v":-2.4},{"t":3.7,"v":2.8},{"t":3.8,"v":-2.6},{"t":3.9,"v":2.5},
      {"t":4,"v":-2.2},{"t":4.1,"v":5.4},{"t":4.2,"v":-4.1},{"t":4.3,"v":2.3},{"t":4.4,"v":-2.0},{"t":4.5,"v":2.1},{"t":4.6,"v":-1.6},{"t":4.7,"v":1.4},{"t":4.8,"v":-1.2},{"t":4.9,"v":1.1},
      {"t":5,"v":-0.9},{"t":5.1,"v":0.7},{"t":5.2,"v":-0.9},{"t":5.3,"v":1.0},{"t":5.4,"v":-0.6},{"t":5.5,"v":0.7},{"t":5.6,"v":-0.5},{"t":5.7,"v":0.6},{"t":5.8,"v":-0.7},{"t":5.9,"v":0.5},
      {"t":6,"v":-0.5},{"t":6.2,"v":0.6},{"t":6.4,"v":-0.4},{"t":6.6,"v":0.5},{"t":6.8,"v":-0.6},{"t":7,"v":0.4},{"t":7.2,"v":-0.5},{"t":7.4,"v":0.6},{"t":7.6,"v":-0.3},{"t":7.8,"v":0.5},
      {"t":8,"v":-0.4},{"t":8.2,"v":0.5},{"t":8.4,"v":-0.5},{"t":8.6,"v":0.3},{"t":8.8,"v":-0.4},{"t":9,"v":0.5},{"t":9.2,"v":-0.3},{"t":9.4,"v":0.4},{"t":9.6,"v":-0.5},{"t":9.8,"v":0.3},
      {"t":10,"v":-0.3},{"t":10.3,"v":0.4},{"t":10.6,"v":-0.3},{"t":10.9,"v":0.35},{"t":11.2,"v":-0.4},{"t":11.5,"v":0.3},{"t":11.8,"v":-0.25},{"t":12.1,"v":0.35},{"t":12.4,"v":-0.3},{"t":12.7,"v":0.3},
      {"t":13,"v":-0.35},{"t":13.3,"v":0.25},{"t":13.6,"v":-0.3},{"t":13.9,"v":0.35},{"t":14.2,"v":-0.25},{"t":14.5,"v":0.3},{"t":14.8,"v":-0.3},{"t":15.1,"v":0.25},{"t":15.4,"v":-0.35},{"t":15.7,"v":0.3},
      {"t":16,"v":-0.2},{"t":16.3,"v":0.3},{"t":16.6,"v":-0.25},{"t":16.9,"v":0.2},{"t":17.2,"v":-0.3},{"t":17.5,"v":0.25},{"t":17.8,"v":-0.2},{"t":18.1,"v":0.3},{"t":18.4,"v":-0.25},{"t":18.7,"v":0.2},
      {"t":19,"v":-0.3},{"t":19.3,"v":0.25},{"t":19.6,"v":-0.2},{"t":19.9,"v":0.25},
      {"t":20.2,"v":-0.2},{"t":20.6,"v":0.15},{"t":21,"v":-0.25},{"t":21.4,"v":0.2},{"t":21.8,"v":-0.15},{"t":22.2,"v":0.2},{"t":22.6,"v":-0.2},{"t":23,"v":0.25},{"t":23.4,"v":-0.15},{"t":23.8,"v":0.2},
      {"t":24.2,"v":-0.2},{"t":24.6,"v":0.15},{"t":25,"v":-0.2},{"t":25.4,"v":0.25},{"t":25.8,"v":-0.2},{"t":26.2,"v":0.15},{"t":26.6,"v":-0.25},{"t":27,"v":0.2},{"t":27.4,"v":-0.15},{"t":27.8,"v":0.2},
      {"t":28.2,"v":-0.2},{"t":28.6,"v":0.25},{"t":29,"v":-0.15},{"t":29.4,"v":0.2},{"t":29.8,"v":-0.2},{"t":30.2,"v":0.15},{"t":30.6,"v":-0.2},{"t":31,"v":0.2},{"t":31.4,"v":-0.25},{"t":31.8,"v":0.15},
      {"t":32.2,"v":-0.2},{"t":32.6,"v":0.2},{"t":33,"v":-0.15},{"t":33.4,"v":0.25},{"t":33.8,"v":-0.2},{"t":34.2,"v":0.15},{"t":34.6,"v":-0.2},{"t":35,"v":0.2},{"t":35.4,"v":-0.15},{"t":35.8,"v":0.2},
      {"t":36.2,"v":-0.25},{"t":36.6,"v":0.2},{"t":37,"v":-0.15},{"t":37.4,"v":0.2},{"t":37.8,"v":-0.2},{"t":38.2,"v":0.15},{"t":38.6,"v":-0.2},{"t":39,"v":0.25},{"t":39.4,"v":-0.15},{"t":39.8,"v":0.2},
      {"t":40.2,"v":-0.2},{"t":40.6,"v":0.15},{"t":41,"v":-0.2},{"t":41.4,"v":0.2},{"t":41.8,"v":-0.25},{"t":42.2,"v":0.15},{"t":42.6,"v":-0.2},{"t":43,"v":0.2},{"t":43.4,"v":-0.15},{"t":43.8,"v":0.25},
      {"t":44.2,"v":-0.2},{"t":44.6,"v":0.15},{"t":45,"v":-0.2},{"t":45.4,"v":0.2},{"t":45.8,"v":-0.15},{"t":46.2,"v":0.2},{"t":46.6,"v":-0.25},{"t":47,"v":0.2},{"t":47.4,"v":-0.15},{"t":47.8,"v":0.2},
      {"t":48.2,"v":-0.2},{"t":48.6,"v":0.15},{"t":49,"v":-0.2},{"t":49.4,"v":0.25},{"t":49.8,"v":-0.2},{"t":50.2,"v":0.15},{"t":50.6,"v":-0.2},{"t":51,"v":0.2},{"t":51.4,"v":-0.15},{"t":51.8,"v":0.2},
      {"t":52.2,"v":-0.25},{"t":52.6,"v":0.2},{"t":53,"v":-0.15},{"t":53.4,"v":0.2},{"t":53.8,"v":-0.2},{"t":54.2,"v":0.15},{"t":54.6,"v":-0.2},{"t":55,"v":0.25},{"t":55.4,"v":-0.15},{"t":55.8,"v":0.2},
      {"t":56.2,"v":-0.2},{"t":56.6,"v":0.15},{"t":57,"v":-0.2},{"t":57.4,"v":0.2},{"t":57.8,"v":-0.25},{"t":58.2,"v":0.15},{"t":58.6,"v":-0.2},{"t":59,"v":0.2},{"t":59.4,"v":-0.15},{"t":59.8,"v":0.25},
      {"t":60.2,"v":-0.2},{"t":60.6,"v":0.15},{"t":61,"v":-0.2},{"t":61.4,"v":0.2},{"t":61.8,"v":-0.15},{"t":62.2,"v":0.2},{"t":62.6,"v":-0.25},{"t":63,"v":0.2},{"t":63.4,"v":-0.1}
    ],
    "REE00": [
      {"t":0,"v":1.8},{"t":0.2,"v":-2.0},{"t":0.4,"v":1.5},{"t":0.6,"v":-1.7},{"t":0.8,"v":2.2},{"t":1,"v":-1.4},{"t":1.2,"v":1.9},{"t":1.4,"v":-2.1},
      {"t":1.6,"v":1.2},{"t":1.7,"v":-10.0},{"t":1.8,"v":7.7},{"t":1.9,"v":-3.0},{"t":2,"v":2.5},{"t":2.2,"v":-3.2},{"t":2.4,"v":3.9},{"t":2.6,"v":-2.8},{"t":2.8,"v":3.0},{"t":2.9,"v":-3.5},
      {"t":3,"v":4.0},{"t":3.1,"v":-2.0},{"t":3.2,"v":14.0},{"t":3.3,"v":-11.3},{"t":3.4,"v":10.5},{"t":3.5,"v":-7.5},{"t":3.6,"v":9.0},{"t":3.7,"v":-6.5},{"t":3.8,"v":8.6},{"t":3.9,"v":-7.3},
      {"t":4,"v":7.8},{"t":4.1,"v":-6.8},{"t":4.2,"v":5.5},{"t":4.3,"v":-5.0},{"t":4.4,"v":4.2},{"t":4.5,"v":-5.3},{"t":4.6,"v":6.2},{"t":4.7,"v":-4.0},{"t":4.8,"v":3.5},
      {"t":5,"v":-3.2},{"t":5.2,"v":3.0},{"t":5.4,"v":-2.6},{"t":5.6,"v":2.8},{"t":5.8,"v":-2.4},
      {"t":6,"v":2.5},{"t":6.2,"v":-2.2},{"t":6.4,"v":1.8},{"t":6.6,"v":-2.6},{"t":6.8,"v":2.0},{"t":7,"v":-1.7},{"t":7.2,"v":2.4},{"t":7.4,"v":-2.3},{"t":7.6,"v":1.6},{"t":7.8,"v":-2.0},
      {"t":8,"v":2.2},{"t":8.2,"v":-1.9},{"t":8.4,"v":2.7},{"t":8.6,"v":-2.1},{"t":8.8,"v":1.5},{"t":9,"v":-2.4},{"t":9.2,"v":2.0},{"t":9.4,"v":-1.8},{"t":9.6,"v":2.3},{"t":9.8,"v":-2.6},
      {"t":10,"v":1.9},{"t":10.2,"v":-2.2},{"t":10.4,"v":2.5},{"t":10.6,"v":-1.6},{"t":10.8,"v":2.1},{"t":11,"v":-2.0},{"t":11.2,"v":1.7},{"t":11.4,"v":-2.5},{"t":11.6,"v":2.2},{"t":11.8,"v":-1.8},
      {"t":12,"v":2.4},{"t":12.2,"v":-2.1},{"t":12.4,"v":1.8},{"t":12.6,"v":-2.3},{"t":12.8,"v":2.6},{"t":13,"v":-1.9},{"t":13.2,"v":2.0},{"t":13.4,"v":-2.4},{"t":13.6,"v":1.6},{"t":13.8,"v":-2.2},
      {"t":14,"v":2.1},{"t":14.2,"v":-1.7},{"t":14.4,"v":2.3},{"t":14.6,"v":-2.5},{"t":14.8,"v":1.9},{"t":15,"v":-2.0},{"t":15.2,"v":2.6},{"t":15.4,"v":-1.8},{"t":15.6,"v":2.2},{"t":15.8,"v":-2.3},
      {"t":16,"v":1.8},{"t":16.2,"v":-2.2},{"t":16.4,"v":2.4},{"t":16.6,"v":-1.9},{"t":16.8,"v":2.0},{"t":17,"v":-2.6},{"t":17.2,"v":1.7},{"t":17.4,"v":-2.1},{"t":17.6,"v":2.5},{"t":17.8,"v":-1.9},
      {"t":18,"v":2.2},{"t":18.2,"v":-2.4},{"t":18.4,"v":1.9},{"t":18.6,"v":-2.0},{"t":18.8,"v":2.7},{"t":19,"v":-2.2},{"t":19.2,"v":1.8},{"t":19.4,"v":-2.5},{"t":19.6,"v":2.1},{"t":19.8,"v":-1.7},
      {"t":20,"v":2.4},{"t":20.2,"v":-2.0},{"t":20.4,"v":1.7},{"t":20.6,"v":-2.3},{"t":20.8,"v":2.2},{"t":21,"v":-1.9},{"t":21.2,"v":2.5},{"t":21.4,"v":-2.1},{"t":21.6,"v":1.9},{"t":21.8,"v":-2.4},
      {"t":22,"v":2.0},{"t":22.2,"v":-2.2},{"t":22.4,"v":2.6},{"t":22.6,"v":-1.8},{"t":22.8,"v":2.3},{"t":23,"v":-2.7},{"t":23.2,"v":3.0},{"t":23.4,"v":-2.5},{"t":23.6,"v":2.1},{"t":23.8,"v":-2.0},
      {"t":24,"v":3.4},{"t":24.2,"v":-2.8},{"t":24.4,"v":2.5},{"t":24.6,"v":-3.0},{"t":24.8,"v":2.2},{"t":25,"v":-2.4},{"t":25.2,"v":1.9},{"t":25.4,"v":-2.1},{"t":25.6,"v":2.3},{"t":25.8,"v":-1.8},
      {"t":26,"v":2.1},{"t":26.2,"v":-2.3},{"t":26.4,"v":1.8},{"t":26.6,"v":-2.0},{"t":26.8,"v":2.4},{"t":27,"v":-2.2},{"t":27.2,"v":1.7},{"t":27.4,"v":-2.5},{"t":27.6,"v":2.0},{"t":27.8,"v":-1.9},
      {"t":28,"v":2.3},{"t":28.2,"v":-1.8},{"t":28.4,"v":2.0},{"t":28.6,"v":-2.4},{"t":28.8,"v":1.9},{"t":29,"v":-2.1},{"t":29.2,"v":2.5},{"t":29.4,"v":-1.7},{"t":29.6,"v":2.2},{"t":29.8,"v":-2.3},
      {"t":30,"v":1.9},{"t":30.2,"v":-2.2},{"t":30.4,"v":2.4},{"t":30.6,"v":-2.0},{"t":30.8,"v":1.8},{"t":31,"v":-2.5},{"t":31.2,"v":2.1},{"t":31.4,"v":-1.9},{"t":31.6,"v":2.6},{"t":31.8,"v":-2.2},
      {"t":32,"v":2.0},{"t":32.2,"v":-1.8},{"t":32.4,"v":2.3},{"t":32.6,"v":-2.4},{"t":32.8,"v":2.7},{"t":33,"v":-2.1},{"t":33.2,"v":1.9},{"t":33.4,"v":-2.3},{"t":33.6,"v":2.2},{"t":33.8,"v":-2.0},
      {"t":34,"v":2.5},{"t":34.2,"v":-2.2},{"t":34.4,"v":1.8},{"t":34.6,"v":-2.6},{"t":34.8,"v":2.3},{"t":35,"v":-1.9},{"t":35.2,"v":2.1},{"t":35.4,"v":-2.4},{"t":35.6,"v":1.7},{"t":35.8,"v":-2.1},
      {"t":36,"v":2.2},{"t":36.2,"v":-2.0},{"t":36.4,"v":2.6},{"t":36.6,"v":-2.3},{"t":36.8,"v":1.9},{"t":37,"v":-2.2},{"t":37.2,"v":2.4},{"t":37.4,"v":-1.8},{"t":37.6,"v":2.0},{"t":37.8,"v":-2.5},
      {"t":38,"v":2.3},{"t":38.2,"v":-1.9},{"t":38.4,"v":2.1},{"t":38.6,"v":-2.2},{"t":38.8,"v":2.5},{"t":39,"v":-2.0},{"t":39.2,"v":1.8},{"t":39.4,"v":-2.4},{"t":39.6,"v":2.2},{"t":39.8,"v":-2.1},
      {"t":40,"v":1.9},{"t":40.2,"v":-2.3},{"t":40.4,"v":2.4},{"t":40.6,"v":-1.8},{"t":40.8,"v":2.2},{"t":41,"v":-2.6},{"t":41.2,"v":2.0},{"t":41.4,"v":-2.1},{"t":41.6,"v":2.5},{"t":41.8,"v":-1.9},
      {"t":42,"v":2.1},{"t":42.2,"v":-2.4},{"t":42.4,"v":1.8},{"t":42.6,"v":-2.2},{"t":42.8,"v":2.6},{"t":43,"v":-2.0},{"t":43.2,"v":2.3},{"t":43.4,"v":-1.9},{"t":43.6,"v":2.0},{"t":43.8,"v":-2.3},
      {"t":44,"v":2.4},{"t":44.2,"v":-2.1},{"t":44.4,"v":2.0},{"t":44.6,"v":-2.5},{"t":44.8,"v":1.8},{"t":45,"v":-2.2},{"t":45.2,"v":2.7},{"t":45.4,"v":-2.4},{"t":45.6,"v":2.1},{"t":45.8,"v":-1.8},
      {"t":46,"v":2.2},{"t":46.2,"v":-2.6},{"t":46.4,"v":2.5},{"t":46.6,"v":-2.0},{"t":46.8,"v":3.2},{"t":47,"v":-2.8},{"t":47.2,"v":2.4},{"t":47.4,"v":-2.2},{"t":47.6,"v":1.9},{"t":47.8,"v":-2.3},
      {"t":48,"v":2.3},{"t":48.2,"v":-2.0},{"t":48.4,"v":2.1},{"t":48.6,"v":-2.4},{"t":48.8,"v":1.9},{"t":49,"v":-2.1},{"t":49.2,"v":2.6},{"t":49.4,"v":-2.3},{"t":49.6,"v":2.0},{"t":49.8,"v":-1.9},
      {"t":50,"v":2.5},{"t":50.2,"v":-2.2},{"t":50.4,"v":1.8},{"t":50.6,"v":-2.5},{"t":50.8,"v":2.2},{"t":51,"v":-2.0},{"t":51.2,"v":2.4},{"t":51.4,"v":-1.8},{"t":51.6,"v":2.1},{"t":51.8,"v":-2.4},
      {"t":52,"v":1.9},{"t":52.2,"v":-2.3},{"t":52.4,"v":2.6},{"t":52.6,"v":-2.1},{"t":52.8,"v":2.0},{"t":53,"v":-2.4},{"t":53.2,"v":1.8},{"t":53.4,"v":-2.2},{"t":53.6,"v":2.5},{"t":53.8,"v":-2.0},
      {"t":54,"v":2.2},{"t":54.2,"v":-1.9},{"t":54.4,"v":2.4},{"t":54.6,"v":-2.6},{"t":54.8,"v":2.1},{"t":55,"v":-2.0},{"t":55.2,"v":2.7},{"t":55.4,"v":-2.3},{"t":55.6,"v":1.9},{"t":55.8,"v":-2.2},
      {"t":56,"v":2.0},{"t":56.2,"v":-2.4},{"t":56.4,"v":1.8},{"t":56.6,"v":-2.1},{"t":56.8,"v":2.5},{"t":57,"v":-2.2},{"t":57.2,"v":2.3},{"t":57.4,"v":-1.9},{"t":57.6,"v":2.6},{"t":57.8,"v":-2.5},
      {"t":58,"v":2.4},{"t":58.2,"v":-2.0},{"t":58.4,"v":2.2},{"t":58.6,"v":-2.3},{"t":58.8,"v":1.9},{"t":59,"v":-2.6},{"t":59.2,"v":2.1},{"t":59.4,"v":-2.2},{"t":59.6,"v":2.5},{"t":59.8,"v":-1.8},
      {"t":60,"v":2.1},{"t":60.2,"v":-2.5},{"t":60.4,"v":2.7},{"t":60.6,"v":-2.0},{"t":60.8,"v":2.3},{"t":61,"v":-2.2},{"t":61.2,"v":1.8},{"t":61.4,"v":-2.4},{"t":61.6,"v":2.6},{"t":61.8,"v":-2.1},
      {"t":62,"v":2.2},{"t":62.2,"v":-2.3},{"t":62.4,"v":2.0},{"t":62.6,"v":-2.6},{"t":62.8,"v":2.5},{"t":63,"v":-2.0},{"t":63.2,"v":1.9},{"t":63.4,"v":-1.2}
    ],
    "RD884": [
      {"t":0,"v":0},{"t":1.1,"v":0},{"t":1.15,"v":0.6},{"t":1.2,"v":-0.5},{"t":1.3,"v":0.3},{"t":1.4,"v":-0.3},{"t":1.6,"v":0.2},{"t":1.8,"v":-0.3},{"t":2,"v":0.3},{"t":2.1,"v":-0.2},
      {"t":2.2,"v":1.5},{"t":2.25,"v":15.0},{"t":2.3,"v":-22.0},{"t":2.35,"v":12.0},{"t":2.4,"v":-6.0},{"t":2.45,"v":10.5},{"t":2.5,"v":-7.0},{"t":2.55,"v":10.0},{"t":2.6,"v":-12.0},{"t":2.65,"v":5.0},
      {"t":2.7,"v":-5.0},{"t":2.75,"v":4.0},{"t":2.8,"v":-3.5},{"t":2.9,"v":2.5},{"t":2.95,"v":-2.8},{"t":3,"v":2.2},{"t":3.1,"v":-2.0},{"t":3.2,"v":3.7},{"t":3.3,"v":-2.4},{"t":3.4,"v":1.5},
      {"t":3.5,"v":-1.2},{"t":3.6,"v":1.0},{"t":3.7,"v":-0.9},{"t":3.8,"v":0.8},{"t":3.9,"v":-0.7},{"t":4,"v":0.6},{"t":4.2,"v":-0.5},{"t":4.4,"v":0.4},{"t":4.6,"v":-0.3},{"t":4.8,"v":0.3},
      {"t":5,"v":-0.2},{"t":5.5,"v":0.15},{"t":6,"v":-0.1},{"t":10,"v":0.1},{"t":20,"v":-0.1},{"t":30,"v":0.1},{"t":40,"v":0},{"t":50,"v":0},{"t":63.4,"v":0}
    ]
  },
  "vconcat": [
    {
      "title": {"text": "Channel: EHZ, filter: \"bandpass\", freqmin=2, freqmax=15, corners=4", "orient": "bottom", "anchor": "start", "frame": "group", "dx": -134, "offset": -14, "baseline": "top"},
      "spacing": 0,
      "bounds": "flush",
      "vconcat": [
        {
          "width": 1672, "height": 132,
          "layer": [
            {
              "data": {"name": "R0B29"},
              "mark": {"type": "line", "color": "#1f77b4", "strokeWidth": 1.1, "clip": true},
              "encoding": {
                "x": {"field": "t", "type": "quantitative", "scale": {"domain": [-0.54, 64.02], "nice": false, "zero": false}, "axis": {"orient": "bottom", "values": [0, 10, 20, 30, 40, 50, 60], "tickSize": -5, "labels": false, "title": null}},
                "y": {"field": "v", "type": "quantitative", "scale": {"domain": [-5.1, 5.1], "nice": false, "zero": false}, "axis": {"orient": "left", "values": [-5, 0, 5], "tickSize": 5, "labelPadding": 1, "title": null, "labelExpr": "datum.value > 0 ? '5.0e-07' : datum.value < 0 ? '-5.0e-07' : '0.0e+00'"}}
              }
            },
            {
              "layer": [
                {
                  "data": {"name": "phases"},
                  "transform": [{"filter": "datum.station == 'R0B29'"}],
                  "mark": {"type": "rule", "strokeDash": [6, 3], "strokeWidth": 2, "opacity": 0.65},
                  "encoding": {
                    "x": {"field": "t", "type": "quantitative", "scale": {"domain": [-0.54, 64.02], "nice": false, "zero": false}, "axis": {"orient": "top", "values": [0, 10, 20, 30, 40, 50, 60], "tickSize": -5, "labels": false, "title": null}},
                    "color": {"field": "phase", "type": "nominal", "scale": {"domain": ["Pg", "PgPg", "PmP", "PP", "SmP", "Sg", "SmS", "Sn"], "range": ["#1f77b4", "#2ca02c", "#d62728", "#9467bd", "#ffbb78", "#98df8a", "#c5b0d5", "#1f77b4"]}, "legend": null}
                  }
                },
                {
                  "data": {"name": "phases"},
                  "transform": [{"filter": "datum.station == 'R0B29'"}],
                  "mark": {"type": "text", "align": "right", "baseline": "bottom", "dx": -3, "dy": 0, "fontSize": 16, "opacity": 0.5},
                  "encoding": {
                    "x": {"field": "t", "type": "quantitative"},
                    "y": {"datum": -5.1, "type": "quantitative", "scale": {"domain": [-5.1, 5.1], "nice": false, "zero": false}, "axis": {"orient": "right", "values": [-5, 0, 5], "tickSize": 5, "labels": false, "title": null}},
                    "text": {"field": "phase"},
                    "color": {"field": "phase", "type": "nominal", "scale": {"domain": ["Pg", "PgPg", "PmP", "PP", "SmP", "Sg", "SmS", "Sn"], "range": ["#1f77b4", "#2ca02c", "#d62728", "#9467bd", "#ffbb78", "#98df8a", "#c5b0d5", "#1f77b4"]}, "legend": null}
                  }
                },
                {
                  "data": {"name": "stations"},
                  "transform": [{"filter": "datum.station == 'R0B29'"}],
                  "mark": {"type": "text", "align": "left", "baseline": "top", "dy": 4, "fontSize": 14, "color": "black"},
                  "encoding": {"x": {"datum": 0.11}, "y": {"datum": 5.1}, "text": {"field": "label"}}
                }
              ]
            }
          ],
          "resolve": {"scale": {"x": "independent", "y": "independent"}}
        },
        {
          "width": 1672, "height": 132,
          "layer": [
            {
              "data": {"name": "HTL"},
              "mark": {"type": "line", "color": "#1f77b4", "strokeWidth": 1.1, "clip": true},
              "encoding": {
                "x": {"field": "t", "type": "quantitative", "scale": {"domain": [-0.54, 64.02], "nice": false, "zero": false}, "axis": {"orient": "bottom", "values": [0, 10, 20, 30, 40, 50, 60], "tickSize": -5, "labels": false, "title": null}},
                "y": {"field": "v", "type": "quantitative", "scale": {"domain": [-10.6, 10.6], "nice": false, "zero": false}, "axis": {"orient": "left", "values": [-10, 0, 10], "tickSize": 5, "labelPadding": 1, "title": null, "labelExpr": "datum.value > 0 ? '1.0e-08' : datum.value < 0 ? '-1.0e-08' : '0.0e+00'"}}
              }
            },
            {
              "layer": [
                {
                  "data": {"name": "phases"},
                  "transform": [{"filter": "datum.station == 'HTL'"}],
                  "mark": {"type": "rule", "strokeDash": [6, 3], "strokeWidth": 2, "opacity": 0.65},
                  "encoding": {
                    "x": {"field": "t", "type": "quantitative", "scale": {"domain": [-0.54, 64.02], "nice": false, "zero": false}, "axis": {"orient": "top", "values": [0, 10, 20, 30, 40, 50, 60], "tickSize": -5, "labels": false, "title": null}},
                    "color": {"field": "phase", "type": "nominal", "scale": {"domain": ["Pg", "PgPg", "PmP", "PP", "SmP", "Sg", "SmS", "Sn"], "range": ["#1f77b4", "#2ca02c", "#d62728", "#9467bd", "#ffbb78", "#98df8a", "#c5b0d5", "#1f77b4"]}, "legend": null}
                  }
                },
                {
                  "data": {"name": "phases"},
                  "transform": [{"filter": "datum.station == 'HTL'"}],
                  "mark": {"type": "text", "align": "right", "baseline": "bottom", "dx": -3, "dy": 0, "fontSize": 16, "opacity": 0.5},
                  "encoding": {
                    "x": {"field": "t", "type": "quantitative"},
                    "y": {"datum": -10.6, "type": "quantitative", "scale": {"domain": [-10.6, 10.6], "nice": false, "zero": false}, "axis": {"orient": "right", "values": [-10, 0, 10], "tickSize": 5, "labels": false, "title": null}},
                    "text": {"field": "phase"},
                    "color": {"field": "phase", "type": "nominal", "scale": {"domain": ["Pg", "PgPg", "PmP", "PP", "SmP", "Sg", "SmS", "Sn"], "range": ["#1f77b4", "#2ca02c", "#d62728", "#9467bd", "#ffbb78", "#98df8a", "#c5b0d5", "#1f77b4"]}, "legend": null}
                  }
                },
                {
                  "data": {"name": "stations"},
                  "transform": [{"filter": "datum.station == 'HTL'"}],
                  "mark": {"type": "text", "align": "left", "baseline": "top", "dy": 4, "fontSize": 14, "color": "black"},
                  "encoding": {"x": {"datum": 0.11}, "y": {"datum": 10.6}, "text": {"field": "label"}}
                }
              ]
            }
          ],
          "resolve": {"scale": {"x": "independent", "y": "independent"}}
        },
        {
          "width": 1672, "height": 132,
          "layer": [
            {
              "data": {"name": "DYA"},
              "mark": {"type": "line", "color": "#1f77b4", "strokeWidth": 1.1, "clip": true},
              "encoding": {
                "x": {"field": "t", "type": "quantitative", "scale": {"domain": [-0.54, 64.02], "nice": false, "zero": false}, "axis": {"orient": "bottom", "values": [0, 10, 20, 30, 40, 50, 60], "tickSize": -5, "labels": false, "title": null}},
                "y": {"field": "v", "type": "quantitative", "scale": {"domain": [-6.6, 6.6], "nice": false, "zero": false}, "axis": {"orient": "left", "values": [-5, 0, 5], "tickSize": 5, "labelPadding": 1, "title": null, "labelExpr": "datum.value > 0 ? '5.0e-08' : datum.value < 0 ? '-5.0e-08' : '0.0e+00'"}}
              }
            },
            {
              "layer": [
                {
                  "data": {"name": "phases"},
                  "transform": [{"filter": "datum.station == 'DYA'"}],
                  "mark": {"type": "rule", "strokeDash": [6, 3], "strokeWidth": 2, "opacity": 0.65},
                  "encoding": {
                    "x": {"field": "t", "type": "quantitative", "scale": {"domain": [-0.54, 64.02], "nice": false, "zero": false}, "axis": {"orient": "top", "values": [0, 10, 20, 30, 40, 50, 60], "tickSize": -5, "labels": false, "title": null}},
                    "color": {"field": "phase", "type": "nominal", "scale": {"domain": ["Pg", "PgPg", "PmP", "PP", "SmP", "Sg", "SmS", "Sn"], "range": ["#1f77b4", "#2ca02c", "#d62728", "#9467bd", "#ffbb78", "#98df8a", "#c5b0d5", "#1f77b4"]}, "legend": null}
                  }
                },
                {
                  "data": {"name": "phases"},
                  "transform": [{"filter": "datum.station == 'DYA'"}],
                  "mark": {"type": "text", "align": "right", "baseline": "bottom", "dx": -3, "dy": 0, "fontSize": 16, "opacity": 0.5},
                  "encoding": {
                    "x": {"field": "t", "type": "quantitative"},
                    "y": {"datum": -6.6, "type": "quantitative", "scale": {"domain": [-6.6, 6.6], "nice": false, "zero": false}, "axis": {"orient": "right", "values": [-5, 0, 5], "tickSize": 5, "labels": false, "title": null}},
                    "text": {"field": "phase"},
                    "color": {"field": "phase", "type": "nominal", "scale": {"domain": ["Pg", "PgPg", "PmP", "PP", "SmP", "Sg", "SmS", "Sn"], "range": ["#1f77b4", "#2ca02c", "#d62728", "#9467bd", "#ffbb78", "#98df8a", "#c5b0d5", "#1f77b4"]}, "legend": null}
                  }
                },
                {
                  "data": {"name": "stations"},
                  "transform": [{"filter": "datum.station == 'DYA'"}],
                  "mark": {"type": "text", "align": "left", "baseline": "top", "dy": 4, "fontSize": 14, "color": "black"},
                  "encoding": {"x": {"datum": 0.11}, "y": {"datum": 6.6}, "text": {"field": "label"}}
                }
              ]
            }
          ],
          "resolve": {"scale": {"x": "independent", "y": "independent"}}
        },
        {
          "width": 1672, "height": 132,
          "layer": [
            {
              "data": {"name": "RB5E8"},
              "mark": {"type": "line", "color": "#1f77b4", "strokeWidth": 1.1, "clip": true},
              "encoding": {
                "x": {"field": "t", "type": "quantitative", "scale": {"domain": [-0.54, 64.02], "nice": false, "zero": false}, "axis": {"orient": "bottom", "values": [0, 10, 20, 30, 40, 50, 60], "tickSize": -5, "labels": false, "title": null}},
                "y": {"field": "v", "type": "quantitative", "scale": {"domain": [-5.75, 5.75], "nice": false, "zero": false}, "axis": {"orient": "left", "values": [-5, 0, 5], "tickSize": 5, "labelPadding": 1, "title": "Velocity [m/s]", "titleX": -134, "titleY": 66, "titleAngle": -90, "titleAlign": "center", "titleBaseline": "middle", "labelExpr": "datum.value > 0 ? '5.0e-07' : datum.value < 0 ? '-5.0e-07' : '0.0e+00'"}}
              }
            },
            {
              "layer": [
                {
                  "data": {"name": "phases"},
                  "transform": [{"filter": "datum.station == 'RB5E8'"}],
                  "mark": {"type": "rule", "strokeDash": [6, 3], "strokeWidth": 2, "opacity": 0.65},
                  "encoding": {
                    "x": {"field": "t", "type": "quantitative", "scale": {"domain": [-0.54, 64.02], "nice": false, "zero": false}, "axis": {"orient": "top", "values": [0, 10, 20, 30, 40, 50, 60], "tickSize": -5, "labels": false, "title": null}}
                  }
                },
                {
                  "data": {"name": "stations"},
                  "transform": [{"filter": "datum.station == 'RB5E8'"}],
                  "mark": {"type": "text", "align": "left", "baseline": "top", "dy": 4, "fontSize": 14, "color": "black"},
                  "encoding": {"x": {"datum": 0.11}, "y": {"datum": 5.75, "type": "quantitative", "scale": {"domain": [-5.75, 5.75], "nice": false, "zero": false}, "axis": {"orient": "right", "values": [-5, 0, 5], "tickSize": 5, "labels": false, "title": null}}, "text": {"field": "label"}}
                }
              ]
            }
          ],
          "resolve": {"scale": {"x": "independent", "y": "independent"}}
        },
        {
          "width": 1672, "height": 132,
          "layer": [
            {
              "data": {"name": "CCA1"},
              "mark": {"type": "line", "color": "#1f77b4", "strokeWidth": 1.1, "clip": true},
              "encoding": {
                "x": {"field": "t", "type": "quantitative", "scale": {"domain": [-0.54, 64.02], "nice": false, "zero": false}, "axis": {"orient": "bottom", "values": [0, 10, 20, 30, 40, 50, 60], "tickSize": -5, "labels": false, "title": null}},
                "y": {"field": "v", "type": "quantitative", "scale": {"domain": [-7.5, 7.5], "nice": false, "zero": false}, "axis": {"orient": "left", "values": [-5, 0, 5], "tickSize": 5, "labelPadding": 1, "title": null, "labelExpr": "datum.value > 0 ? '5.0e-07' : datum.value < 0 ? '-5.0e-07' : '0.0e+00'"}}
              }
            },
            {
              "layer": [
                {
                  "data": {"name": "phases"},
                  "transform": [{"filter": "datum.station == 'CCA1'"}],
                  "mark": {"type": "rule", "strokeDash": [6, 3], "strokeWidth": 2, "opacity": 0.65},
                  "encoding": {
                    "x": {"field": "t", "type": "quantitative", "scale": {"domain": [-0.54, 64.02], "nice": false, "zero": false}, "axis": {"orient": "top", "values": [0, 10, 20, 30, 40, 50, 60], "tickSize": -5, "labels": false, "title": null}}
                  }
                },
                {
                  "data": {"name": "stations"},
                  "transform": [{"filter": "datum.station == 'CCA1'"}],
                  "mark": {"type": "text", "align": "left", "baseline": "top", "dy": 4, "fontSize": 14, "color": "black"},
                  "encoding": {"x": {"datum": 0.11}, "y": {"datum": 7.5, "type": "quantitative", "scale": {"domain": [-7.5, 7.5], "nice": false, "zero": false}, "axis": {"orient": "right", "values": [-5, 0, 5], "tickSize": 5, "labels": false, "title": null}}, "text": {"field": "label"}}
                }
              ]
            }
          ],
          "resolve": {"scale": {"x": "independent", "y": "independent"}}
        },
        {
          "width": 1672, "height": 132,
          "layer": [
            {
              "data": {"name": "REE00"},
              "mark": {"type": "line", "color": "#1f77b4", "strokeWidth": 1.1, "clip": true},
              "encoding": {
                "x": {"field": "t", "type": "quantitative", "scale": {"domain": [-0.54, 64.02], "nice": false, "zero": false}, "axis": {"orient": "bottom", "values": [0, 10, 20, 30, 40, 50, 60], "tickSize": -5, "labels": false, "title": null}},
                "y": {"field": "v", "type": "quantitative", "scale": {"domain": [-18.2, 18.2], "nice": false, "zero": false}, "axis": {"orient": "left", "values": [-10, 0, 10], "tickSize": 5, "labelPadding": 1, "title": null, "labelExpr": "datum.value > 0 ? '1.0e-06' : datum.value < 0 ? '-1.0e-06' : '0.0e+00'"}}
              }
            },
            {
              "layer": [
                {
                  "data": {"name": "phases"},
                  "transform": [{"filter": "datum.station == 'REE00'"}],
                  "mark": {"type": "rule", "strokeDash": [6, 3], "strokeWidth": 2, "opacity": 0.65},
                  "encoding": {
                    "x": {"field": "t", "type": "quantitative", "scale": {"domain": [-0.54, 64.02], "nice": false, "zero": false}, "axis": {"orient": "top", "values": [0, 10, 20, 30, 40, 50, 60], "tickSize": -5, "labels": false, "title": null}}
                  }
                },
                {
                  "data": {"name": "stations"},
                  "transform": [{"filter": "datum.station == 'REE00'"}],
                  "mark": {"type": "text", "align": "left", "baseline": "top", "dy": 4, "fontSize": 14, "color": "black"},
                  "encoding": {"x": {"datum": 0.11}, "y": {"datum": 18.2, "type": "quantitative", "scale": {"domain": [-18.2, 18.2], "nice": false, "zero": false}, "axis": {"orient": "right", "values": [-10, 0, 10], "tickSize": 5, "labels": false, "title": null}}, "text": {"field": "label"}}
                }
              ]
            }
          ],
          "resolve": {"scale": {"x": "independent", "y": "independent"}}
        },
        {
          "width": 1672, "height": 132,
          "layer": [
            {
              "data": {"name": "RD884"},
              "mark": {"type": "line", "color": "#1f77b4", "strokeWidth": 1.1, "clip": true},
              "encoding": {
                "x": {"field": "t", "type": "quantitative", "scale": {"domain": [-0.54, 64.02], "nice": false, "zero": false}, "axis": {"orient": "bottom", "values": [0, 10, 20, 30, 40, 50, 60], "tickSize": -5, "labelPadding": 7, "title": "Time since earthquake [s]", "titleX": 798, "titleY": 70, "titleAlign": "center", "titleBaseline": "middle"}},
                "y": {"field": "v", "type": "quantitative", "scale": {"domain": [-30.3, 30.3], "nice": false, "zero": false}, "axis": {"orient": "left", "values": [-20, 0, 20], "tickSize": 5, "labelPadding": 1, "title": null, "labelExpr": "datum.value > 0 ? '2.0e-05' : datum.value < 0 ? '-2.0e-05' : '0.0e+00'"}}
              }
            },
            {
              "layer": [
                {
                  "data": {"name": "phases"},
                  "transform": [{"filter": "datum.station == 'RD884'"}],
                  "mark": {"type": "rule", "strokeDash": [6, 3], "strokeWidth": 2, "opacity": 0.65},
                  "encoding": {
                    "x": {"field": "t", "type": "quantitative", "scale": {"domain": [-0.54, 64.02], "nice": false, "zero": false}, "axis": {"orient": "top", "values": [0, 10, 20, 30, 40, 50, 60], "tickSize": -5, "labels": false, "title": null}}
                  }
                },
                {
                  "data": {"name": "stations"},
                  "transform": [{"filter": "datum.station == 'RD884'"}],
                  "mark": {"type": "text", "align": "left", "baseline": "top", "dy": 4, "fontSize": 14, "color": "black"},
                  "encoding": {"x": {"datum": 0.11}, "y": {"datum": 30.3, "type": "quantitative", "scale": {"domain": [-30.3, 30.3], "nice": false, "zero": false}, "axis": {"orient": "right", "values": [-20, 0, 20], "tickSize": 5, "labels": false, "title": null}}, "text": {"field": "label"}}
                }
              ]
            }
          ],
          "resolve": {"scale": {"x": "independent", "y": "independent"}}
        }
      ]
    }
  ]
}
